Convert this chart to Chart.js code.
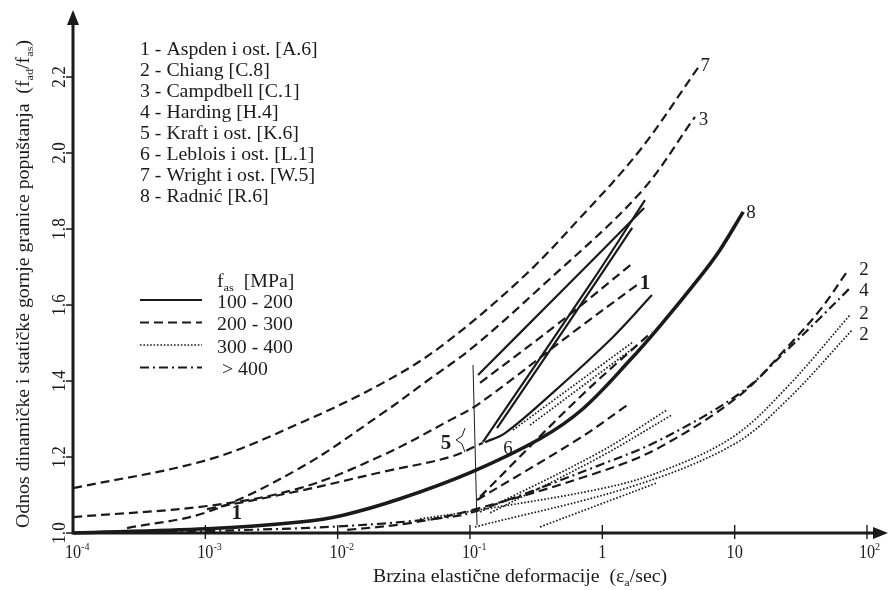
<!DOCTYPE html>
<html>
<head>
<meta charset="utf-8">
<script src="https://cdn.jsdelivr.net/npm/chart.js@4.4.0/dist/chart.umd.min.js"></script>
<style>
    html, body { margin: 0; padding: 0; background: #fff; }
    #wrap { width: 888px; height: 590px; }
</style>
</head>
<body>
<div id="wrap"><canvas id="myChart" width="888" height="590"></canvas></div>
<script>
// axis ticks
var xTicks = [1e-4, 1e-3, 1e-2, 1e-1, 1, 10, 100];
var xTickBase = ['10', '10', '10', '10', '1', '10', '10'];
var xTickExp = ['-4', '-3', '-2', '-1', '', '', '2'];
var yTicks = [1.0, 1.2, 1.4, 1.6, 1.8, 2.0, 2.2];
var yTickLabels = ['1.0', '1.2', '1.4', '1.6', '1.8', '2.0', '2.2'];

// legends
var sources = [
    '1 - Aspden i ost. [A.6]',
    '2 - Chiang [C.8]',
    '3 - Campdbell [C.1]',
    '4 - Harding [H.4]',
    '5 - Kraft i ost. [K.6]',
    '6 - Leblois i ost. [L.1]',
    '7 - Wright i ost. [W.5]',
    '8 - Radnić [R.6]'
];
var classLabels = ['100 - 200', '200 - 300', '300 - 400', '> 400'];
var classStyles = ['solid', 'dashed', 'dotted', 'dashDot'];

// curves [strain rate, f_ad/f_as]
var wright7 = [[1e-4, 1.118], [1.03e-3, 1.192], [5.19e-3, 1.289], [0.022, 1.395], [0.0593, 1.489], [0.239, 1.666], [0.678, 1.829], [1.93, 2.008], [5.28, 2.224]];
var campbell3 = [[2.56e-4, 1.013], [1.03e-3, 1.055], [5.19e-3, 1.171], [0.022, 1.316], [0.0473, 1.400], [0.1054, 1.489], [0.338, 1.645], [1.93, 1.895], [5.01, 2.095]];
var aspden1 = [[1e-4, 1.042], [1.03e-3, 1.071], [5.19e-3, 1.118], [0.022, 1.205], [0.0706, 1.297], [0.119, 1.342], [0.678, 1.542], [1.83, 1.653]];
var kraftDashA = [[1.03e-3, 1.063], [5.19e-3, 1.111], [0.022, 1.161], [0.0706, 1.200], [0.125, 1.237]];
var kraftDashB = [[0.119, 1.395], [0.479, 1.555], [1.71, 1.711]];
var kraftDashC = [[0.113, 1.087], [0.678, 1.250], [1.62, 1.342]];
var kraftDashD = [[0.119, 1.095], [0.678, 1.358], [2.37, 1.529]];
var kraftSolidA = [[0.115, 1.416], [0.479, 1.632], [2.07, 1.855]];
var kraftSolidB = [[0.125, 1.239], [0.851, 1.666], [2.10, 1.876]];
var kraftSolidC = [[0.16, 1.276], [0.522, 1.539], [1.68, 1.803]];
var leblois6 = [[0.130, 1.239], [0.184, 1.263], [0.403, 1.363], [1.205, 1.516], [2.37, 1.626]];
var chiangDash = [[0.0118, 1.008], [0.0352, 1.026], [0.1054, 1.061], [0.960, 1.161], [2.73, 1.226], [11.0, 1.363], [24.9, 1.489], [44.2, 1.587], [71.9, 1.692]];
var harding4 = [[2.7e-4, 1.0], [1.03e-3, 1.005], [0.011, 1.018], [0.0706, 1.042], [0.119, 1.061], [0.960, 1.179], [2.73, 1.245], [11.0, 1.368], [24.9, 1.482], [44.2, 1.566], [74.5, 1.645]];
var chiangDotA = [[0.0419, 1.037], [0.1054, 1.058], [0.960, 1.116], [2.73, 1.161], [9.72, 1.253], [24.9, 1.384], [74.5, 1.574]];
var chiangDotB = [[0.109, 1.016], [1.62, 1.121], [9.72, 1.232], [24.9, 1.350], [77.1, 1.534]];
var dotA = [[0.211, 1.271], [1.71, 1.503]];
var dotB = [[0.284, 1.284], [1.80, 1.492]];
var dotC = [[0.119, 1.055], [0.960, 1.213], [3.08, 1.324]];
var dotD = [[0.142, 1.053], [0.960, 1.200], [3.36, 1.311]];
var dotE = [[0.338, 1.016], [2.59, 1.132]];
var radnic8 = [[1e-4, 1.0], [1.03e-3, 1.011], [5.19e-3, 1.029], [0.011, 1.047], [0.0296, 1.090], [0.1035, 1.161], [0.338, 1.248], [0.714, 1.327], [1.62, 1.455], [2.73, 1.545], [5.47, 1.674], [7.74, 1.745], [11.6, 1.845]];
var kraftBar = [[0.1054, 1.442], [0.113, 1.021]];
var kraftBrace = [[0.0916, 1.276], [0.0871, 1.255], [0.0784, 1.245], [0.0871, 1.234], [0.0916, 1.213]];

// curve labels
var curveLabels = [
    { t: '7', x: 6.0, y: 2.232, bold: false },
    { t: '3', x: 5.8, y: 2.092, bold: false },
    { t: '8', x: 13.3, y: 1.845, bold: false },
    { t: '2', x: 95, y: 1.697, bold: false },
    { t: '4', x: 95, y: 1.642, bold: false },
    { t: '2', x: 95, y: 1.579, bold: false },
    { t: '2', x: 95, y: 1.526, bold: false },
    { t: '1', x: 2.1, y: 1.658, bold: true },
    { t: '1', x: 1.73e-3, y: 1.053, bold: true },
    { t: '5', x: 0.066, y: 1.239, bold: true },
    { t: '6', x: 0.194, y: 1.226, bold: false }
];

var ink = '#1a1a1a';
var serif = '"Liberation Serif", "DejaVu Serif", serif';
var dashes = { solid: [], dashed: [9, 5], dotted: [1.6, 1.8], dashDot: [9, 4, 2, 4] };

function curve(data, style, width) {
    return {
        data: data.map(function (p) { return { x: p[0], y: p[1] }; }),
        borderColor: ink,
        borderWidth: width || (style === 'dotted' ? 1.7 : 2.2),
        borderDash: dashes[style],
        showLine: true,
        pointRadius: 0,
        tension: 0.35,
        clip: false,
        fill: false
    };
}

// text with sub/superscript runs
function drawRuns(ctx, runs, x, y, size, opt) {
    opt = opt || {};
    ctx.save();
    ctx.translate(x, y);
    if (opt.rotate) ctx.rotate(opt.rotate);
    ctx.scale(opt.sx || 1, 1);
    var fonts = runs.map(function (r) {
        var s = r.s ? size * 0.62 : size;
        return (opt.bold ? 'bold ' : '') + s + 'px ' + serif;
    });
    var widths = runs.map(function (r, i) { ctx.font = fonts[i]; return ctx.measureText(r.t).width; });
    var total = widths.reduce(function (a, b) { return a + b; }, 0);
    var cx = opt.align === 'center' ? -total / 2 : (opt.align === 'right' ? -total : 0);
    ctx.fillStyle = ink;
    ctx.textBaseline = 'alphabetic';
    ctx.textAlign = 'left';
    runs.forEach(function (r, i) {
        ctx.font = fonts[i];
        var dy = r.s === 'sub' ? size * 0.22 : (r.s === 'sup' ? -size * 0.42 : 0);
        ctx.fillText(r.t, cx, dy);
        cx += widths[i];
    });
    ctx.restore();
}

var decorPlugin = {
    id: 'decor',
    afterDraw: function (chart) {
        var ctx = chart.ctx;
        var xs = chart.scales.x, ys = chart.scales.y, area = chart.chartArea;
        var x0 = xs.getPixelForValue(xTicks[0]);
        var y0 = ys.getPixelForValue(yTicks[0]);
        ctx.save();
        ctx.strokeStyle = ink;
        ctx.fillStyle = ink;
        ctx.setLineDash([]);

        // axes
        ctx.lineWidth = 3;
        ctx.beginPath();
        ctx.moveTo(x0, y0 + 1.5);
        ctx.lineTo(x0, area.top + 10);
        ctx.moveTo(x0 - 1.5, y0);
        ctx.lineTo(area.right - 10, y0);
        ctx.stroke();
        // arrow heads
        ctx.beginPath();
        ctx.moveTo(x0, area.top - 2);
        ctx.lineTo(x0 - 6, area.top + 13);
        ctx.lineTo(x0 + 6, area.top + 13);
        ctx.closePath();
        ctx.fill();
        ctx.beginPath();
        ctx.moveTo(area.right + 1, y0);
        ctx.lineTo(area.right - 14, y0 - 6);
        ctx.lineTo(area.right - 14, y0 + 6);
        ctx.closePath();
        ctx.fill();

        // ticks
        ctx.lineWidth = 1.4;
        ctx.beginPath();
        yTicks.forEach(function (v) {
            var py = ys.getPixelForValue(v);
            ctx.moveTo(x0 - 7, py);
            ctx.lineTo(x0, py);
        });
        xTicks.forEach(function (v, i) {
            if (i === 0) return;
            var px = xs.getPixelForValue(v);
            ctx.moveTo(px, y0 - 8);
            ctx.lineTo(px, y0 + 6);
        });
        ctx.stroke();

        // tick labels
        yTicks.forEach(function (v, i) {
            drawRuns(ctx, [{ t: yTickLabels[i] }], x0 - 8, ys.getPixelForValue(v), 18,
                { rotate: -Math.PI / 2, align: 'center', sx: 0.95 });
        });
        xTicks.forEach(function (v, i) {
            var px = xs.getPixelForValue(v);
            ctx.save();
            ctx.font = '18px ' + serif;
            var w = ctx.measureText(xTickBase[i]).width * 0.9;
            ctx.restore();
            drawRuns(ctx, [{ t: xTickBase[i] }, { t: xTickExp[i], s: 'sup' }], px - w / 2, y0 + 25, 18, { sx: 0.9 });
        });

        // axis titles
        drawRuns(ctx, [{ t: 'Brzina elastične deformacije  (ε' }, { t: 'a', s: 'sub' }, { t: '/sec)' }],
            373, y0 + 49, 18, { sx: 1.1 });
        drawRuns(ctx, [{ t: 'Odnos dinamičke i statičke gornje granice popuštanja  (f' }, { t: 'ad', s: 'sub' }, { t: '/f' }, { t: 'as', s: 'sub' }, { t: ')' }],
            29, 284, 18, { rotate: -Math.PI / 2, align: 'center', sx: 1.1 });

        // source list
        sources.forEach(function (s, i) {
            drawRuns(ctx, [{ t: s }], 140, 55 + i * 21, 18, { sx: 1.1 });
        });

        // f_as classes
        drawRuns(ctx, [{ t: 'f' }, { t: 'as', s: 'sub' }, { t: '  [MPa]' }], 217, 287, 18, { sx: 1.1 });
        classLabels.forEach(function (s, i) {
            var ly = 300 + i * 22.5;
            ctx.save();
            ctx.lineWidth = classStyles[i] === 'dotted' ? 1.7 : 2.2;
            ctx.setLineDash(dashes[classStyles[i]]);
            ctx.beginPath();
            ctx.moveTo(140, ly);
            ctx.lineTo(202, ly);
            ctx.stroke();
            ctx.restore();
            drawRuns(ctx, [{ t: s }], i === 3 ? 222 : 217, ly + 7.5, 18, { sx: 1.1 });
        });

        // curve numbers
        curveLabels.forEach(function (l) {
            drawRuns(ctx, [{ t: l.t }], xs.getPixelForValue(l.x), ys.getPixelForValue(l.y) + 6.5, l.bold ? 20 : 18,
                { align: 'center', bold: l.bold, sx: 1.05 });
        });
        ctx.restore();
    }
};

var datasets = [
    curve(wright7, 'dashed'),
    curve(campbell3, 'dashed'),
    curve(aspden1, 'dashed'),
    curve(kraftDashA, 'dashed'),
    curve(kraftDashB, 'dashed'),
    curve(kraftDashC, 'dashed'),
    curve(kraftDashD, 'dashed'),
    curve(kraftSolidA, 'solid'),
    curve(kraftSolidB, 'solid'),
    curve(kraftSolidC, 'solid'),
    curve(leblois6, 'solid'),
    curve(chiangDash, 'dashed'),
    curve(harding4, 'dashDot'),
    curve(chiangDotA, 'dotted'),
    curve(chiangDotB, 'dotted'),
    curve(dotA, 'dotted'),
    curve(dotB, 'dotted'),
    curve(dotC, 'dotted'),
    curve(dotD, 'dotted'),
    curve(dotE, 'dotted'),
    curve(radnic8, 'solid', 3.6),
    curve(kraftBar, 'solid', 1),
    curve(kraftBrace, 'solid', 1)
];
datasets[datasets.length - 1].tension = 0;
datasets[datasets.length - 2].tension = 0;

new Chart(document.getElementById('myChart').getContext('2d'), {
    type: 'scatter',
    data: { datasets: datasets },
    options: {
        responsive: false,
        animation: false,
        devicePixelRatio: 1,
        layout: { padding: { left: 73, right: 1, top: 12, bottom: 57 } },
        plugins: { legend: { display: false }, tooltip: { enabled: false } },
        scales: {
            x: { type: 'logarithmic', min: 1e-4, max: 141.6, display: false },
            y: { type: 'linear', min: 1.0, max: 2.371, display: false }
        }
    },
    plugins: [decorPlugin]
});
</script>
</body>
</html>
